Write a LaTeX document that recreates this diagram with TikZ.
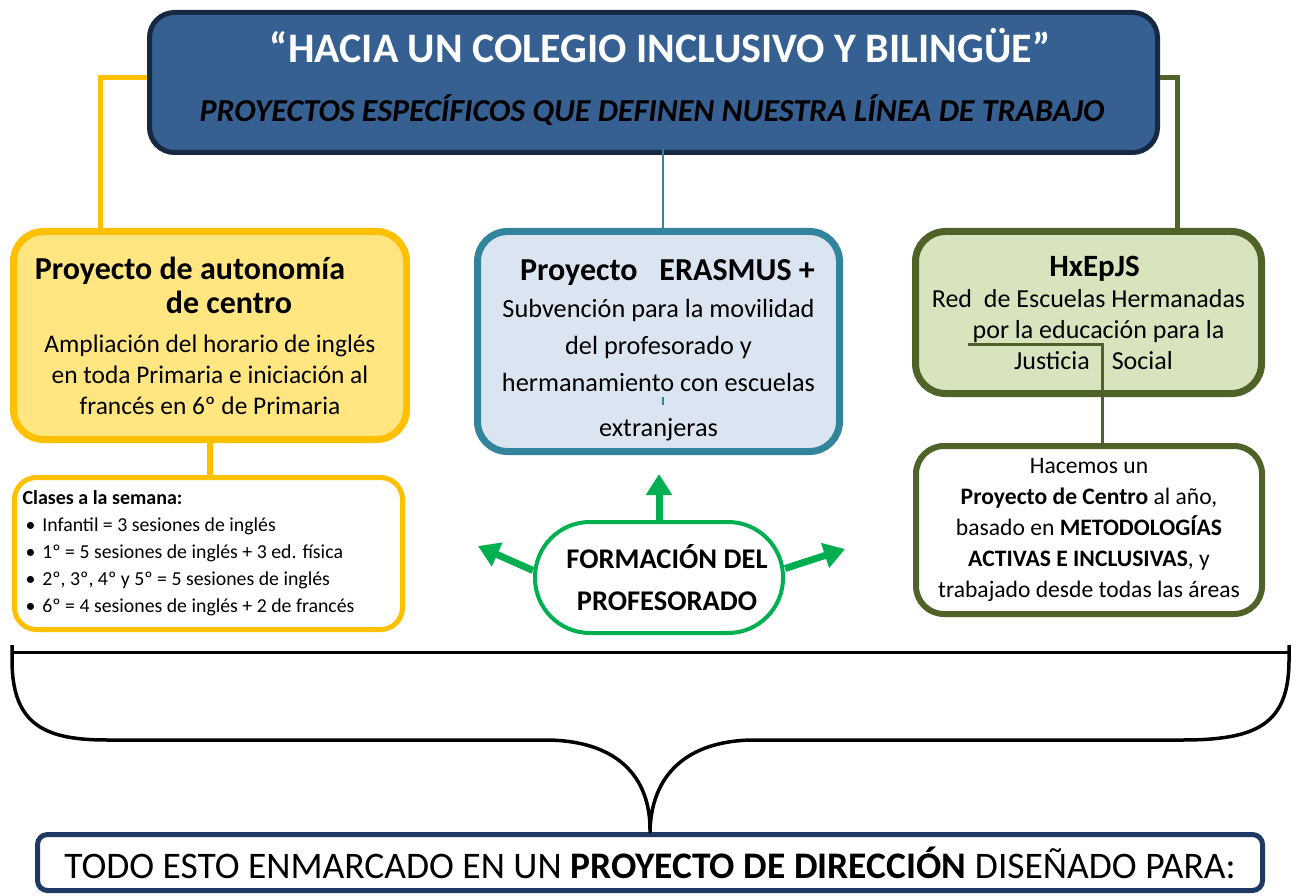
\documentclass[tikz,border=0pt]{standalone}
\usepackage{fontspec}
\setmainfont{Carlito}
\usetikzlibrary{arrows.meta}

\definecolor{titfondo}{RGB}{54,96,146}
\definecolor{titborde}{RGB}{23,40,66}
\definecolor{oro}{RGB}{255,192,0}
\definecolor{amarillo}{RGB}{255,230,128}
\definecolor{verdeazul}{RGB}{49,132,155}
\definecolor{celeste}{RGB}{219,229,241}
\definecolor{oliva}{RGB}{79,98,40}
\definecolor{verdeclaro}{RGB}{215,228,189}
\definecolor{verde}{RGB}{0,176,80}
\definecolor{marino}{RGB}{31,56,100}

\newcommand{\punto}{\hspace*{3pt}\textbullet\hspace{7pt}}

\begin{document}
\begin{tikzpicture}[x=1pt, y=-1pt,
    every node/.style={inner sep=0pt, align=center},
    caja/.style={draw, line width=7pt, rounded corners=30pt},
    flecha/.style={draw=verde, line width=7pt, -{Triangle[width=25pt,length=21pt]}}]
  \useasboundingbox (0,0) rectangle (1296,896);

  \node[caja, draw=titborde, fill=titfondo, line width=5pt, rounded corners=25pt,
        minimum width=1008pt, minimum height=140pt] (titulo) at (653.5,82.5) {};
  \node[anchor=base, text=white, font=\fontsize{42}{42}\selectfont\bfseries] (lema) at (660,63)
        {“HACIA UN COLEGIO INCLUSIVO Y BILINGÜE”};
  \node[anchor=base, font=\fontsize{32}{32}\selectfont\bfseries\itshape] (sublema) at (652,122)
        {PROYECTOS ESPECÍFICOS QUE DEFINEN NUESTRA LÍNEA DE TRABAJO};

  \node[caja, draw=oro, fill=amarillo, minimum width=393pt, minimum height=208pt,
        font=\fontsize{25.4}{31}\selectfont] (autonomia) at (210,335.5)
        {{\fontsize{32}{31}\selectfont\bfseries Proyecto de autonomía\kern40pt}\\[3pt]
         {\fontsize{32}{31}\selectfont\bfseries\hspace*{38pt}de centro}\\[8pt]
         Ampliación del horario de inglés\\ en toda Primaria e iniciación al\\
         francés en 6º de Primaria};
  \node[caja, draw=oro, fill=white, line width=5pt, rounded corners=22pt,
        minimum width=388pt, minimum height=152pt, text width=372pt, align=flush left,
        font=\fontsize{19.8}{27}\selectfont] (clases) at (208.5,553.5)
        {{\fontsize{20}{24}\selectfont\bfseries Clases a la semana:}\\
         \punto Infantil = 3 sesiones de inglés\\
         \punto 1º = 5 sesiones de inglés + 3 ed. física\\
         \punto 2º, 3º, 4º y 5º = 5 sesiones de inglés\\
         \punto 6º = 4 sesiones de inglés + 2 de francés};

  \node[caja, draw=verdeazul, fill=celeste, minimum width=362pt, minimum height=220pt,
        font=\fontsize{26.3}{37}\selectfont] (erasmus) at (658.5,341.5)
        {{\fontsize{32}{37}\selectfont\bfseries\rule{0pt}{38pt}\hspace*{18pt}Proyecto\hspace{22pt}ERASMUS +}\\
         Subvención para la movilidad\\ del profesorado y\\
         hermanamiento con escuelas\\[8pt] extranjeras};
  \node[caja, draw=verde, fill=white, line width=4pt, rounded corners=55pt,
        minimum width=248pt, minimum height=111pt,
        font=\fontsize{28.5}{42}\selectfont\bfseries] (formacion) at (659,577.5)
        {\hspace*{16pt}FORMACIÓN DEL\\ \hspace*{16pt}PROFESORADO};

  \node[caja, draw=oliva, fill=verdeclaro, minimum width=346pt, minimum height=162pt,
        font=\fontsize{26}{31}\selectfont] (hxepjs) at (1088.5,312.5)
        {{\fontsize{31}{31}\selectfont\bfseries\hspace*{12pt}HxEpJS}\\
         Red\hspace{6pt} de Escuelas Hermanadas\\
         \hspace*{20pt}por la educación para la\\
         \hspace*{10pt}Justicia\hspace{22pt}Social};
  \node[caja, draw=oliva, fill=white, line width=6pt, rounded corners=28pt,
        minimum width=346pt, minimum height=168pt,
        font=\fontsize{23.6}{31}\selectfont] (centro) at (1089,530)
        {Hacemos un\\ \textbf{Proyecto de Centro} al año,\\
         basado en \textbf{METODOLOGÍAS}\\ \textbf{ACTIVAS E INCLUSIVAS}, y\\
         trabajado desde todas las áreas};

  \node[caja, draw=marino, fill=white, line width=5pt, rounded corners=10pt,
        minimum width=1225pt, minimum height=56pt,
        font=\fontsize{37.5}{37.5}\selectfont] (direccion) at (650,862.5)
        {TODO ESTO ENMARCADO EN UN \textbf{PROYECTO DE DIRECCIÓN} DISEÑADO PARA:};

  \draw[oro, line width=5pt] ([yshift=4.5pt]titulo.west) -| ([xshift=-110pt]autonomia.north);
  \draw[oliva, line width=5pt] ([yshift=4.5pt]titulo.east) -| ([xshift=88.5pt]hxepjs.north);
  \draw[verdeazul, line width=2pt] ([xshift=4.5pt]erasmus.north) -- ++(0,-79);
  \draw[verdeazul, line width=2pt] (663,397) -- (663,405);
  \draw[oro, line width=6pt] (autonomia.south) -- (autonomia.south |- clases.north);
  \coordinate (enlace) at (968,344);
  \draw[oliva, line width=3pt] (enlace) -| ([xshift=13pt]centro.north);

  \coordinate (arriba) at (659,474);
  \coordinate (izquierda) at (478,546);
  \coordinate (derecha) at (845,549);
  \draw[flecha] (formacion.north) -- (arriba);
  \draw[flecha] ([yshift=7pt]formacion.west) -- (izquierda);
  \draw[flecha] ([yshift=9pt]formacion.east) -- (derecha);

  \draw[line width=3pt] (12,652) -- (1289,652);
  \draw[line width=3.5pt, line join=round] (12,645) -- (12,660)
    .. controls (12,725) and (45,740) .. (107,740) -- (545,740)
    .. controls (615,740) and (651,775) .. (direccion.north)
    .. controls (651,775) and (687,740) .. (755,740) -- (1182,740)
    .. controls (1256,740) and (1289,725) .. (1289,660) -- (1289,645);
\end{tikzpicture}
\end{document}
